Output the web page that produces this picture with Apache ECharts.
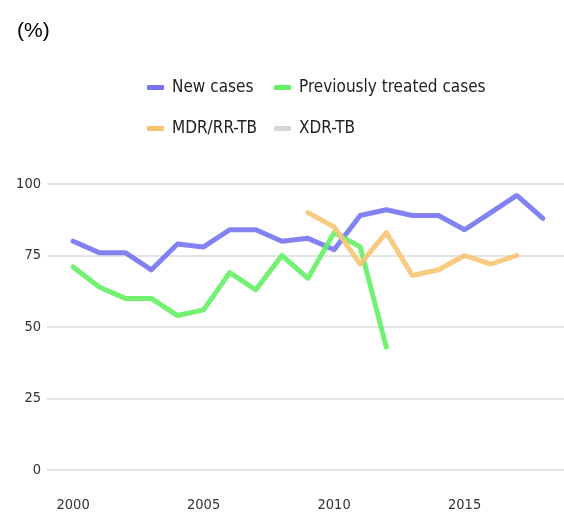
<!DOCTYPE html>
<html>
<head>
<meta charset="utf-8">
<script src="https://cdn.jsdelivr.net/npm/echarts@6/dist/echarts.min.js"></script>
<style>
html,body{margin:0;padding:0;background:#fff;overflow:hidden;width:564px;height:516px;}
#chart{width:572px;height:516px;}
</style>
</head>
<body>
<div id="chart"></div>
<script>
var years = [2000,2001,2002,2003,2004,2005,2006,2007,2008,2009,2010,2011,2012,2013,2014,2015,2016,2017,2018];
var newCases = [80,76,76,70,79,78,84,84,80,81,77,89,91,89,89,84,90,96,88];
var prevTreated = [71,64,60,60,54,56,69,63,75,67,83,78,43,null,null,null,null,null,null];
var mdrRr = [null,null,null,null,null,null,null,null,null,90,85,72,83,68,70,75,72,75,null];
var xdr = [null,null,null,null,null,null,null,null,null,null,null,null,null,null,null,null,null,null,null];
var yTicks = [0,25,50,75,100];
var xTickLabels = [2000,2005,2010,2015];
var seriesNames = ['New cases','Previously treated cases','MDR/RR-TB','XDR-TB'];
var seriesColors = ['#7474f2','#64f064','#f8c474','#d6d6d6'];

function pairs(vals){ return years.map(function(y,i){ return [y, vals[i]]; }); }
var allData = [newCases, prevTreated, mdrRr, xdr];

var FONT = '"DejaVu Sans",sans-serif';

var legendPos = [[142,74],[269,74],[142,115],[269,115]];
var legends = seriesNames.map(function(n,i){
  return {
    data:[n], left:legendPos[i][0], top:legendPos[i][1], orient:'horizontal',
    icon:'roundRect', itemWidth:17, itemHeight:5, selectedMode:false,
    textStyle:{fontFamily:FONT, fontWeight:'condensed', fontSize:17, color:'#222', padding:[0,0,0,3]}
  };
});

var chart = echarts.init(document.getElementById('chart'), null, {renderer:'canvas'});
chart.setOption({
  animation:false,
  color: seriesColors,
  graphic:[{type:'text', left:17, top:21, style:{text:'(%)', font:'21px "Liberation Sans",Arial,sans-serif', fill:'#000'}}],
  legend: legends,
  grid:{left:47, right:1, top:184, bottom:46},
  xAxis:{
    type:'value', min:1999, max:2019, interval:1,
    axisLine:{show:false}, axisTick:{show:false}, splitLine:{show:false},
    axisLabel:{margin:28, fontFamily:FONT, fontWeight:'condensed', fontSize:14.5, color:'#333',
      formatter:function(v){ return xTickLabels.indexOf(v) >= 0 ? String(v) : ''; }}
  },
  yAxis:{
    type:'value', min:yTicks[0], max:yTicks[yTicks.length-1], interval:25,
    axisLine:{show:false}, axisTick:{show:false},
    splitLine:{lineStyle:{color:'#dcdcdc', width:1.5}},
    axisLabel:{margin:6, fontFamily:FONT, fontWeight:'condensed', fontSize:14.5, color:'#333'}
  },
  series: seriesNames.map(function(n,i){
    return {
      name:n, type:'line', data:pairs(allData[i]), showSymbol:false, symbol:'none',
      connectNulls:false,
      lineStyle:{width:5, color:seriesColors[i], opacity:0.9, cap:'round', join:'round'}
    };
  })
});
</script>
</body>
</html>
